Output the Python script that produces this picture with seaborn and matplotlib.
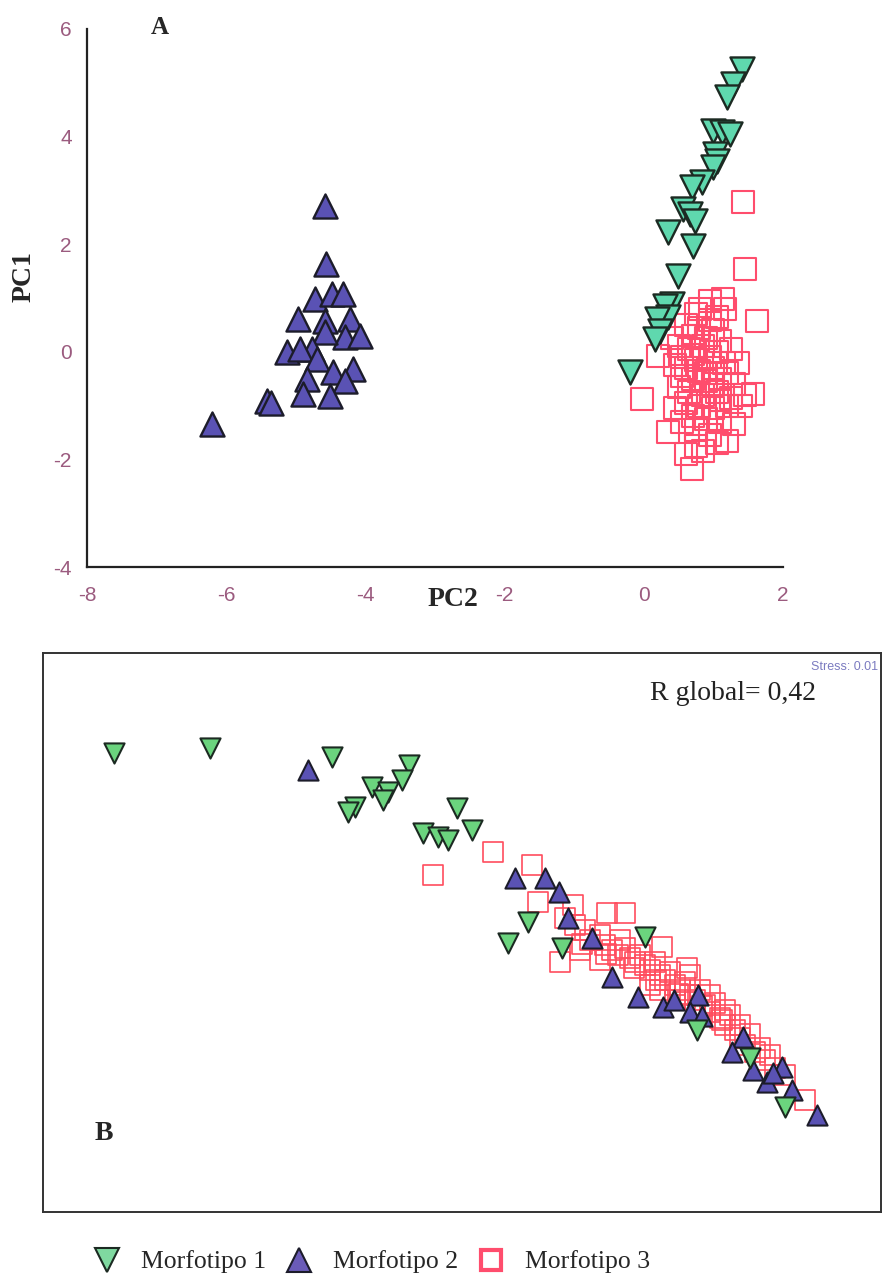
import numpy as np
import pandas as pd
import matplotlib
matplotlib.use("Agg")
import matplotlib.pyplot as plt
import seaborn as sns
from matplotlib.lines import Line2D

# ---------------- data: panel A (PCA) ----------------
m1_pc2 = [1.41, 1.28, 1.19, 0.99, 1.12, 1.24, 1.02, 1.05, 0.99, 0.84, 0.69, 0.56,
          0.66, 0.74, 0.35, 0.71, 0.49, 0.41, 0.31, 0.35, 0.19, 0.23, 0.16, -0.20]
m1_pc1 = [5.26, 4.98, 4.74, 4.11, 4.09, 4.05, 3.68, 3.55, 3.44, 3.16, 3.07, 2.66,
          2.57, 2.43, 2.23, 1.97, 1.41, 0.89, 0.86, 0.65, 0.61, 0.39, 0.24, -0.37]

m2_pc2 = [-4.58, -4.57, -4.72, -4.48, -4.32, -4.97, -4.58, -4.22, -4.29, -4.08, -4.58, -4.77,
          -5.13, -4.94, -4.70, -4.47, -4.18, -4.84, -4.29, -4.90, -4.51, -5.41, -5.36, -6.20]
m2_pc1 = [2.71, 1.64, 0.99, 1.08, 1.08, 0.61, 0.58, 0.61, 0.28, 0.30, 0.37, 0.06,
          0.00, 0.06, -0.13, -0.37, -0.32, -0.50, -0.54, -0.78, -0.82, -0.91, -0.95, -1.34]

m3_pc2 = [1.43, 1.46, 1.14, 1.17, 1.63, 0.81, 0.20, -0.03, 1.57, 0.35, 0.69, 0.60, 0.75, 0.95,
          1.05, 0.40, 1.30, 0.55, 1.20, 0.45,
          0.60, 0.80, 1.00, 0.70, 0.90, 1.10, 0.50, 0.65, 0.85, 1.05, 1.25, 0.55, 0.75, 0.95,
          1.15, 0.60, 0.80, 1.00, 1.20, 0.70, 0.90, 1.10, 1.30, 0.50, 0.65, 0.85, 1.05, 1.25,
          1.45, 0.60, 0.80, 1.00, 1.20, 0.70, 0.90, 1.10, 0.75, 0.95, 1.05, 0.85, 0.70, 0.90,
          1.10, 0.55, 1.35, 0.95, 0.75, 1.40, 0.45, 1.00]
m3_pc1 = [2.79, 1.54, 0.99, 0.80, 0.58, 0.80, -0.07, -0.87, -0.78, -1.49, -2.17, -1.90, -1.75, 0.95,
          0.65, 0.25, -1.35, -1.30, -1.65, -1.05,
          0.50, 0.45, 0.40, 0.30, 0.25, 0.20, 0.10, 0.05, 0.10, 0.00, 0.05, -0.10, -0.15, -0.10,
          -0.20, -0.30, -0.35, -0.30, -0.40, -0.50, -0.55, -0.50, -0.60, -0.65, -0.75, -0.80, -0.75, -0.85,
          -0.80, -0.95, -1.00, -1.05, -1.00, -1.20, -1.25, -1.30, -1.45, -1.55, -1.70, -1.85, -0.05, -0.40,
          -0.90, -0.45, -0.20, 0.60, 0.70, -1.00, -0.25, -0.60]

# ---------------- data: panel B (NMDS) ----------------
m1_d1 = [-1.74, -1.26, -0.65, -0.265, -0.30, -0.45, -0.37, -0.395, -0.535, -0.57, -0.195,
         -0.12, -0.07, -0.025, 0.05, 0.33, 0.23, 0.50, 0.915, 1.175, 1.44, 1.615]
m1_d2 = [0.895, 0.92, 0.875, 0.835, 0.76, 0.725, 0.70, 0.66, 0.625, 0.60, 0.495,
         0.475, 0.46, 0.62, 0.51, 0.05, -0.055, -0.08, -0.025, -0.49, -0.63, -0.875]

m2_d1 = [-0.77, 0.265, 0.415, 0.485, 0.53, 0.65, 0.75, 0.88, 1.005, 1.18, 1.405, 1.35,
         1.455, 1.525, 1.60, 1.65, 1.775, 1.555, 1.06, 1.14, 1.20]
m2_d2 = [0.81, 0.27, 0.27, 0.20, 0.07, -0.03, -0.225, -0.325, -0.375, -0.315, -0.525, -0.60,
         -0.69, -0.75, -0.675, -0.79, -0.915, -0.705, -0.34, -0.40, -0.42]

m3_d1 = [-0.145, 0.155, 0.35, 0.38, 0.555, 0.725, 0.815, 0.49, 0.59, 1.00, 1.125,
         0.515, 0.565, 0.615, 0.64, 0.69, 0.715, 0.75, 0.78, 0.815, 0.84, 0.865, 0.89, 0.915,
         0.94, 0.965, 0.99, 1.015, 1.04, 1.065, 1.09, 1.115, 1.14, 1.165, 1.19, 1.215, 1.24,
         1.265, 1.29, 1.315, 1.34, 1.365, 1.39, 1.415, 1.465, 1.515, 1.565, 1.715, 1.14, 1.065,
         0.94, 0.79, 1.24, 1.315, 1.39, 1.49, 0.69, 0.99, 1.615, 1.54,
         0.60, 0.72, 0.86, 0.97, 1.08, 1.20, 1.30, 1.44]
m3_d2 = [0.285, 0.40, 0.335, 0.15, 0.135, 0.095, 0.095, -0.15, -0.09, -0.075, -0.18,
         0.07, 0.035, 0.01, -0.04, -0.015, -0.065, -0.09, -0.115, -0.08, -0.13, -0.15, -0.115, -0.165,
         -0.19, -0.15, -0.215, -0.24, -0.20, -0.265, -0.29, -0.25, -0.315, -0.34, -0.29, -0.365, -0.40,
         -0.355, -0.43, -0.465, -0.415, -0.49, -0.53, -0.565, -0.60, -0.64, -0.68, -0.84, -0.215, -0.34,
         -0.265, -0.04, -0.315, -0.39, -0.465, -0.58, -0.14, -0.29, -0.715, -0.615,
         -0.06, -0.11, -0.18, -0.24, -0.31, -0.37, -0.44, -0.51]

labels = ["Morfotipo 1", "Morfotipo 2", "Morfotipo 3"]

sns.set_style("white")
plt.rcParams["font.family"] = ["Liberation Sans", "DejaVu Sans"]
plt.rcParams["axes.unicode_minus"] = False

fig = plt.figure(figsize=(8.83, 12.88), dpi=100)
W, H = 883, 1288

# ---------------- panel A ----------------
axA = fig.add_axes([87 / W, 1 - 567 / H, (783 - 87) / W, (567 - 29) / H])
dfA = pd.DataFrame({
    "pc2": m1_pc2 + m2_pc2 + m3_pc2,
    "pc1": m1_pc1 + m2_pc1 + m3_pc1,
    "grupo": [labels[0]] * len(m1_pc2) + [labels[1]] * len(m2_pc2) + [labels[2]] * len(m3_pc2),
})

d = dfA[dfA.grupo == labels[2]]
sns.scatterplot(x=d.pc2, y=d.pc1, ax=axA, marker="s", s=250, color="#ff4d6d",
                facecolors="none", edgecolor="#ff4d6d", linewidth=1.5, legend=False)
d = dfA[dfA.grupo == labels[1]]
sns.scatterplot(x=d.pc2, y=d.pc1, ax=axA, marker="^", s=300, color="#5a52b4",
                edgecolor="#1c1c2a", linewidth=1.7, legend=False)
d = dfA[dfA.grupo == labels[0]]
sns.scatterplot(x=d.pc2, y=d.pc1, ax=axA, marker="v", s=300, color="#5fd8ae",
                edgecolor="#1c2a22", linewidth=1.7, legend=False)

axA.set_xlim(-8, 2)
axA.set_ylim(-4, 6)
axA.set_xticks([-8, -6, -4, -2, 0, 2])
axA.set_yticks([-4, -2, 0, 2, 4, 6])
axA.set_xlabel("")
axA.set_ylabel("")
for s in ["top", "right"]:
    axA.spines[s].set_visible(False)
for s in ["left", "bottom"]:
    axA.spines[s].set_linewidth(1.6)
    axA.spines[s].set_color("#222222")
axA.tick_params(direction="inout", length=10, width=1.5, colors="#222222",
                labelsize=15, labelcolor="#9b5b7f", pad=6)
axA.tick_params(axis="x", pad=9)
axA.set_facecolor("white")

fig.text(160 / W, 1 - 28 / H, "A", family="Liberation Serif", weight="bold",
         fontsize=18, ha="center", va="center")
fig.text(24 / W, 1 - 277 / H, "PC1", family="Liberation Serif", weight="bold",
         fontsize=20, ha="center", va="center", rotation=90)
fig.text(453 / W, 1 - 600 / H, "PC2", family="Liberation Serif", weight="bold",
         fontsize=20, ha="center", va="center")

# ---------------- panel B ----------------
axB = fig.add_axes([43 / W, 1 - 1212 / H, (881 - 43) / W, (1212 - 653) / H])
sns.scatterplot(x=m3_d1, y=m3_d2, ax=axB, marker="s", s=190, color="#ff4d5e",
                facecolors="none", edgecolor="#ff4d5e", linewidth=1.2, legend=False)
sns.scatterplot(x=m2_d1, y=m2_d2, ax=axB, marker="^", s=210, color="#5a52b4",
                edgecolor="#1c1c2a", linewidth=1.5, legend=False)
sns.scatterplot(x=m1_d1, y=m1_d2, ax=axB, marker="v", s=210, color="#6bd47e",
                edgecolor="#1c2a22", linewidth=1.5, legend=False)
axB.set_xlim(-2.095, 2.095)
axB.set_ylim(-1.4, 1.395)
axB.set_xticks([])
axB.set_yticks([])
axB.set_xlabel("")
axB.set_ylabel("")
for s in axB.spines.values():
    s.set_linewidth(1.4)
    s.set_color("#333333")

axB.text(0.997, 0.975, "Stress: 0.01", transform=axB.transAxes, ha="right", va="center",
         fontsize=9, color="#7b7bc0")
axB.text(0.724, 0.928, "R global= 0,42", transform=axB.transAxes, ha="left", va="center",
         fontsize=20, family="Liberation Serif", color="#222222")
axB.text(0.073, 0.141, "B", transform=axB.transAxes, ha="center", va="center",
         fontsize=20, family="Liberation Serif", weight="bold")

# ---------------- legend ----------------
handles = [
    Line2D([], [], ls="none", marker="v", markersize=17, markerfacecolor="#7fd9a0",
           markeredgecolor="#1c2a22", markeredgewidth=1.5),
    Line2D([], [], ls="none", marker="^", markersize=17, markerfacecolor="#6a5bb8",
           markeredgecolor="#1c1c2a", markeredgewidth=1.5),
    Line2D([], [], ls="none", marker="s", markersize=15, markerfacecolor="none",
           markeredgecolor="#ff4d6d", markeredgewidth=3),
]
fig.legend(handles, labels, loc="center", bbox_to_anchor=(0.42, 1 - 1262 / H), ncol=3,
           frameon=False, prop={"family": "Liberation Serif", "size": 18.5},
           handletextpad=0.7, columnspacing=0.7, handlelength=1.2)

fig.savefig("out.png", dpi=100, facecolor="white")
